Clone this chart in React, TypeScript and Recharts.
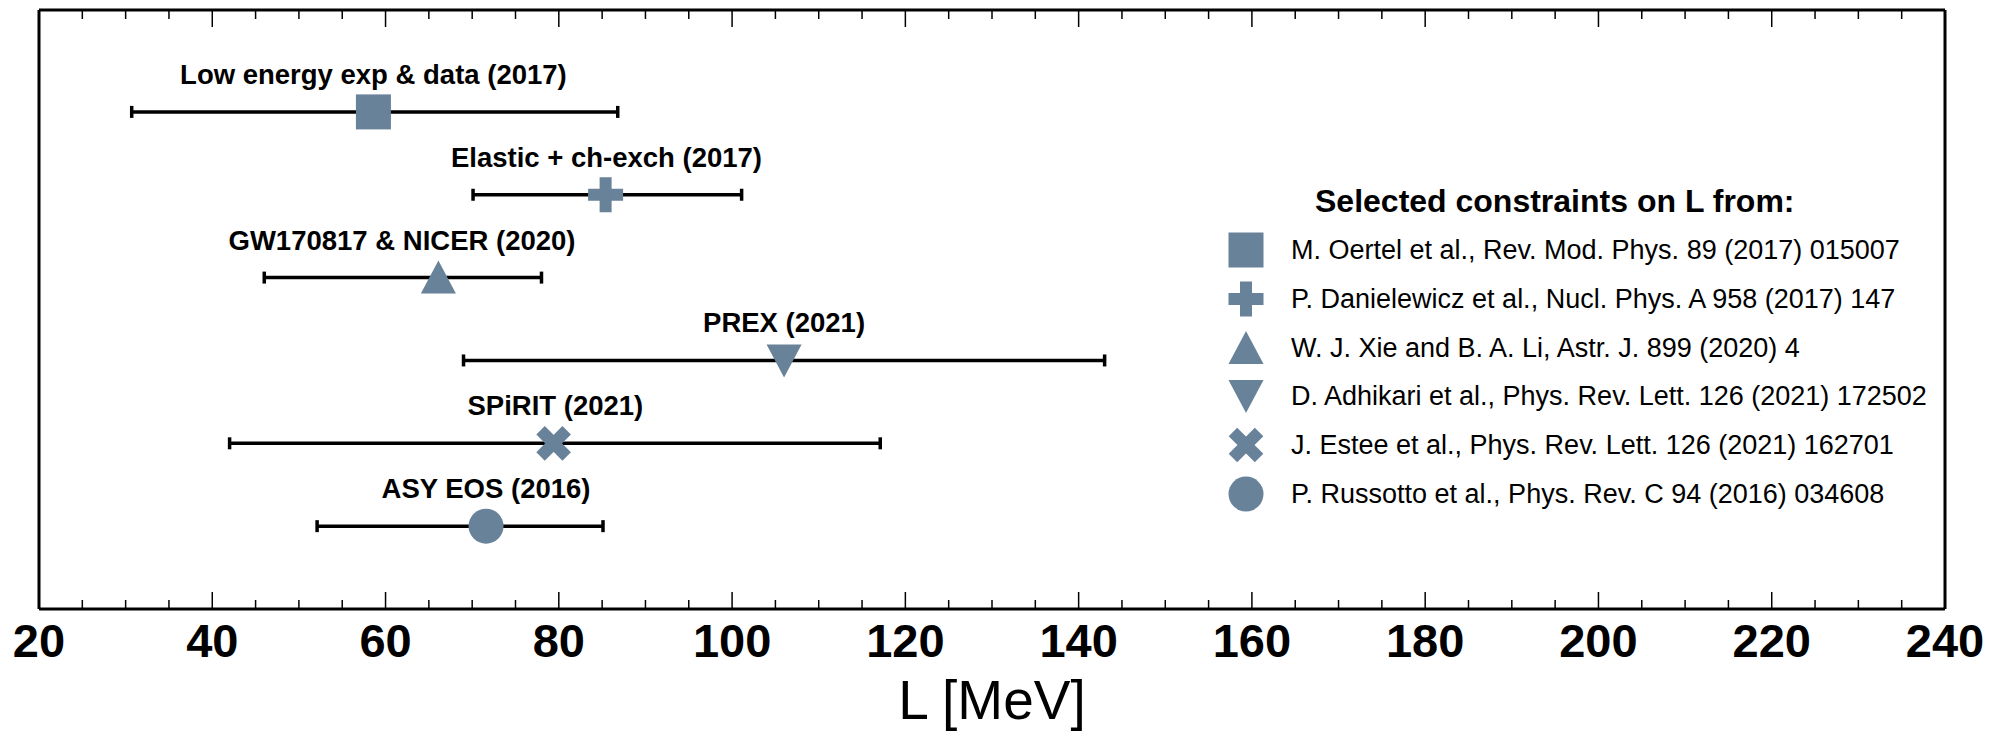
import { ScatterChart, Scatter, XAxis, YAxis, ErrorBar, Legend } from 'recharts';

// constraints on the symmetry-energy slope L, one row per analysis
const studies = [
  'Low energy exp & data (2017)',
  'Elastic + ch-exch (2017)',
  'GW170817 & NICER (2020)',
  'PREX (2021)',
  'SPiRIT (2021)',
  'ASY EOS (2016)',
];
const references = [
  'M. Oertel et al., Rev. Mod. Phys. 89 (2017) 015007',
  'P. Danielewicz et al., Nucl. Phys. A 958 (2017) 147',
  'W. J. Xie and B. A. Li, Astr. J. 899 (2020) 4',
  'D. Adhikari et al., Phys. Rev. Lett. 126 (2021) 172502',
  'J. Estee et al., Phys. Rev. Lett. 126 (2021) 162701',
  'P. Russotto et al., Phys. Rev. C 94 (2016) 034608',
];
const markerKinds = ['square', 'plus', 'triangle', 'triangleDown', 'cross', 'circle'];
const centralL = [58.6, 85.4, 66.1, 106.0, 79.4, 71.6];
const lowerL = [30.7, 70.1, 46.0, 69.0, 42.0, 52.1];
const upperL = [86.8, 101.1, 78.0, 143.0, 117.1, 85.1];
const rowY = [6, 5, 4, 3, 2, 1];
const labelL = [58.6, 85.5, 61.9, 106.0, 79.6, 71.6];

const xTicks = [
  20, 25, 30, 35, 40, 45, 50, 55, 60, 65, 70, 75, 80, 85, 90, 95, 100, 105, 110, 115, 120, 125,
  130, 135, 140, 145, 150, 155, 160, 165, 170, 175, 180, 185, 190, 195, 200, 205, 210, 215, 220,
  225, 230, 235, 240,
];
const majorTicks = [20, 40, 60, 80, 100, 120, 140, 160, 180, 200, 220, 240];

const FONT = '"Liberation Sans", Arial, Helvetica, sans-serif';
const MARKER_COLOR = '#68829a';

const points = studies.map((name, i) => ({
  name,
  kind: markerKinds[i],
  x: centralL[i],
  y: rowY[i],
  err: [centralL[i] - lowerL[i], upperL[i] - centralL[i]],
}));

const labelPoints = studies.map((name, i) => ({ name, x: labelL[i], y: rowY[i] }));

const Marker = ({ kind, cx, cy }: { kind: string; cx: number; cy: number }) => {
  const h = 17.5;
  switch (kind) {
    case 'square':
      return <rect x={cx - h} y={cy - h} width={2 * h} height={2 * h} fill={MARKER_COLOR} />;
    case 'plus':
      return (
        <g fill={MARKER_COLOR}>
          <rect x={cx - h} y={cy - 6} width={2 * h} height={12} />
          <rect x={cx - 6} y={cy - h} width={12} height={2 * h} />
        </g>
      );
    case 'triangle':
      return <polygon points={`${cx},${cy - 17} ${cx + h},${cy + 16} ${cx - h},${cy + 16}`} fill={MARKER_COLOR} />;
    case 'triangleDown':
      return <polygon points={`${cx},${cy + 17} ${cx + h},${cy - 16} ${cx - h},${cy - 16}`} fill={MARKER_COLOR} />;
    case 'cross':
      return (
        <g fill={MARKER_COLOR}>
          <rect x={cx - 18.5} y={cy - 6} width={37} height={12} transform={`rotate(45 ${cx} ${cy})`} />
          <rect x={cx - 18.5} y={cy - 6} width={37} height={12} transform={`rotate(-45 ${cx} ${cy})`} />
        </g>
      );
    default:
      return <circle cx={cx} cy={cy} r={h} fill={MARKER_COLOR} />;
  }
};

const BottomTick = (props: any) => {
  const { x, y, payload } = props;
  const major = majorTicks.includes(payload.value);
  return (
    <g>
      <line x1={x} y1={y} x2={x} y2={y - (major ? 17 : 9)} stroke="#000" strokeWidth={1.5} />
      {major && (
        <text x={x} y={y + 48} textAnchor="middle" fontFamily={FONT} fontWeight="bold" fontSize={47} fill="#000">
          {payload.value}
        </text>
      )}
    </g>
  );
};

const TopTick = (props: any) => {
  const { x, y, payload } = props;
  const major = majorTicks.includes(payload.value);
  return <line x1={x} y1={y} x2={x} y2={y + (major ? 17 : 9)} stroke="#000" strokeWidth={1.5} />;
};

const LegendBox = () => (
  <div style={{ position: 'relative', width: 720, height: 340, fontFamily: FONT, color: '#000' }}>
    <div
      style={{
        position: 'absolute', left: 89, top: 0, height: 40, lineHeight: '40px',
        fontSize: 32, fontWeight: 'bold', whiteSpace: 'nowrap',
      }}
    >
      Selected constraints on L from:
    </div>
    {references.map((ref, i) => (
      <div key={ref} style={{ position: 'absolute', left: 0, top: 49 + i * 48.8, height: 40, display: 'flex', alignItems: 'center' }}>
        <svg width={40} height={40} style={{ display: 'block' }}>
          <Marker kind={markerKinds[i]} cx={20} cy={20} />
        </svg>
        <span style={{ marginLeft: 25, fontSize: 27, lineHeight: '40px', whiteSpace: 'nowrap' }}>{ref}</span>
      </div>
    ))}
  </div>
);

export default function App() {
  return (
    <div style={{ position: 'absolute', left: 0, top: 0, width: 2000, height: 733, background: '#fff' }}>
      <ScatterChart width={2000} height={733} margin={{ top: 0, right: 0, bottom: 0, left: 0 }}>
        <XAxis
          type="number"
          dataKey="x"
          domain={[20, 240]}
          ticks={xTicks}
          interval={0}
          height={124}
          tickSize={0}
          tickMargin={0}
          tickLine={false}
          tick={<BottomTick />}
          axisLine={{ stroke: '#000', strokeWidth: 3 }}
          allowDataOverflow
          label={{ value: 'L [MeV]', position: 'insideBottom', offset: 14, fontFamily: FONT, fontSize: 55, fill: '#000' }}
        />
        <XAxis
          xAxisId="top"
          orientation="top"
          type="number"
          dataKey="x"
          domain={[20, 240]}
          ticks={xTicks}
          interval={0}
          height={10}
          tickSize={0}
          tickMargin={0}
          tickLine={false}
          tick={<TopTick />}
          axisLine={{ stroke: '#000', strokeWidth: 3 }}
          allowDataOverflow
        />
        <YAxis
          type="number"
          dataKey="y"
          domain={[0, 7.23]}
          width={39}
          tick={false}
          tickLine={false}
          axisLine={{ stroke: '#000', strokeWidth: 3 }}
          allowDataOverflow
        />
        <YAxis
          yAxisId="right"
          orientation="right"
          type="number"
          domain={[0, 7.23]}
          width={55}
          tick={false}
          tickLine={false}
          axisLine={{ stroke: '#000', strokeWidth: 3 }}
        />
        <Scatter
          data={labelPoints}
          isAnimationActive={false}
          legendType="none"
          shape={(p: any) => (
            <text x={p.cx} y={p.cy - 28} textAnchor="middle" fontFamily={FONT} fontWeight="bold" fontSize={27.5} fill="#000">
              {p.payload.name}
            </text>
          )}
        />
        <Scatter
          data={points}
          isAnimationActive={false}
          shape={(p: any) => <Marker kind={p.payload.kind} cx={p.cx} cy={p.cy} />}
        >
          <ErrorBar dataKey="err" direction="x" width={6} strokeWidth={3.5} stroke="#000" />
        </Scatter>
        <Legend
          layout="vertical"
          align="center"
          verticalAlign="middle"
          content={() => <LegendBox />}
          wrapperStyle={{ left: 1226, top: 181, width: 720, height: 340 }}
        />
      </ScatterChart>
    </div>
  );
}
